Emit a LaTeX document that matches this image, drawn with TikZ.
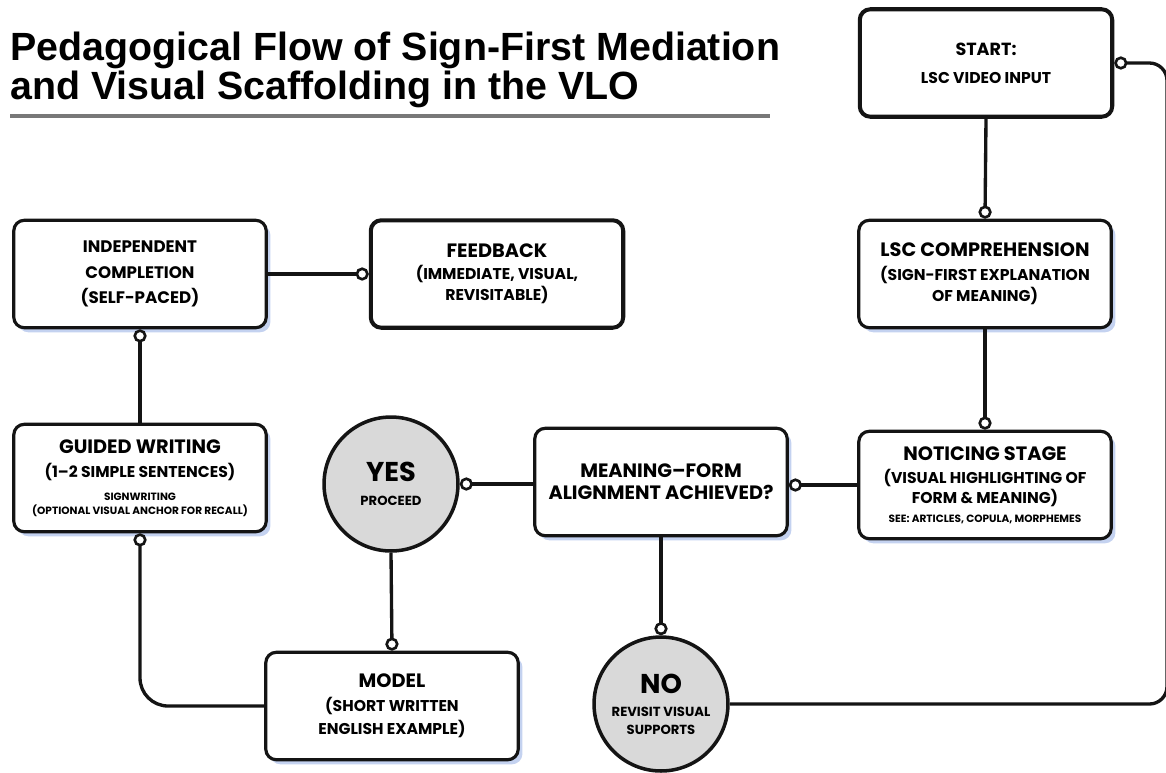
\documentclass[tikz,border=0pt]{standalone}
\usepackage{fontspec}
\setmainfont{Poppins}
\newfontfamily\titlefont{Liberation Sans}
\usetikzlibrary{arrows.meta, shadows}
\definecolor{myink}{RGB}{20,20,20}
\definecolor{myshade}{RGB}{196,210,240}
\definecolor{mydisc}{RGB}{217,217,217}
\definecolor{myrule}{RGB}{120,120,120}
\newcommand{\boxhead}{\fontsize{11}{13.5}\selectfont\bfseries}
\newcommand{\boxsub}{\fontsize{8.9}{12.5}\selectfont\bfseries}
\newcommand{\boxnote}{\fontsize{6}{8}\selectfont\bfseries}
\newcommand{\bigword}{\fontsize{15.5}{17}\selectfont\bfseries}
\newcommand{\discsub}{\fontsize{7.5}{9.5}\selectfont\bfseries}
\tikzset{
  stagebox/.style={rectangle, draw=myink, fill=white, line width=1.8pt,
    rounded corners=6pt, minimum width=5.05cm, minimum height=2.15cm,
    align=center, inner sep=2pt, font=\bfseries},
  shadebox/.style={stagebox, drop shadow={shadow xshift=2.4pt,
    shadow yshift=-2.6pt, fill=myshade, opacity=1}},
  heavybox/.style={stagebox, line width=2.3pt},
  choice/.style={circle, draw=myink, fill=mydisc, line width=2pt,
    minimum size=2.68cm, align=center, inner sep=0pt, font=\bfseries},
  link/.style={line width=1.9pt, color=myink,
    -{Circle[open, fill=white, length=7.5pt, line width=1.5pt]}}
}

\begin{document}
\begin{tikzpicture}[x=0.02cm, y=-0.02cm]
  \useasboundingbox (0,0) rectangle (1166,772);

  % Title and rule
  \node[anchor=north west, align=left, inner sep=0pt,
    font=\titlefont\bfseries\fontsize{22.4}{19.8}\selectfont] (title) at (10,32)
    {Pedagogical Flow of Sign-First Mediation\\ and Visual Scaffolding in the VLO};
  \draw[myrule, line width=2.4pt] (10,116) -- (770,116);

  % Right column
  \node[heavybox] (start) at (986,63)
    {\fontsize{10}{16}\selectfont START:\\[4pt] \boxsub LSC VIDEO INPUT};
  \node[shadebox] (compr) at (985,274)
    {\boxhead LSC COMPREHENSION\\[1.5pt] \boxsub (SIGN-FIRST EXPLANATION\\
     \boxsub OF MEANING)};
  \node[shadebox] (notice) at (985,485)
    {\boxhead NOTICING STAGE\\[1.5pt] \boxsub (VISUAL HIGHLIGHTING OF\\[-1pt]
     \boxsub FORM \& MEANING)\\[-1pt] \boxnote SEE: ARTICLES, COPULA, MORPHEMES};

  % Decision
  \node[shadebox] (align) at (661,482)
    {\boxhead MEANING–FORM\\[0.5pt] \boxhead ALIGNMENT ACHIEVED?};
  \node[choice] (yes) at (391,484) {\bigword YES\\[2pt] \discsub PROCEED};
  \node[choice] (no) at (661,704)
    {\bigword NO\\[1.5pt] \discsub REVISIT VISUAL\\[-2pt] \discsub SUPPORTS};

  % Left column
  \node[shadebox] (model) at (392,706)
    {\boxhead MODEL\\[1.5pt] \boxsub (SHORT WRITTEN\\[1.5pt] \boxsub ENGLISH EXAMPLE)};
  \node[shadebox] (guided) at (140,478)
    {\boxhead GUIDED WRITING\\[1.5pt] \boxsub (1–2 SIMPLE SENTENCES)\\[1pt]
     \boxnote SIGNWRITING\\[-4pt] \boxnote (OPTIONAL VISUAL ANCHOR FOR RECALL)};
  \node[shadebox] (indep) at (140,274)
    {\fontsize{9.5}{14.5}\selectfont INDEPENDENT\\[2.5pt]
     \fontsize{9.5}{14.5}\selectfont COMPLETION\\[2.5pt]
     \fontsize{9.5}{14.5}\selectfont (SELF-PACED)};
  \node[heavybox] (feedback) at (497,274)
    {\boxhead FEEDBACK\\[0.5pt] \boxsub (IMMEDIATE, VISUAL,\\ \boxsub REVISITABLE)};

  % Connectors
  \coordinate (turn) at (1167,704);
  \draw[link] (start.south) -- (compr.north);
  \draw[link] (compr.south) -- (notice.north);
  \draw[link] (notice.west) -- (align.east |- notice.west);
  \draw[link] (align.west |- yes.east) -- (yes.east);
  \draw[link] (yes.south) -- (model.north);
  \draw[link, rounded corners=16pt] (model.west) -| (guided.south);
  \draw[link] (guided.north) -- (indep.south);
  \draw[link] (indep.east) -- (feedback.west);
  \draw[link] (align.south) -- (no.north);
  \draw[link, rounded corners=10pt] (no.east) -- (turn) |- (start.east);
\end{tikzpicture}
\end{document}
